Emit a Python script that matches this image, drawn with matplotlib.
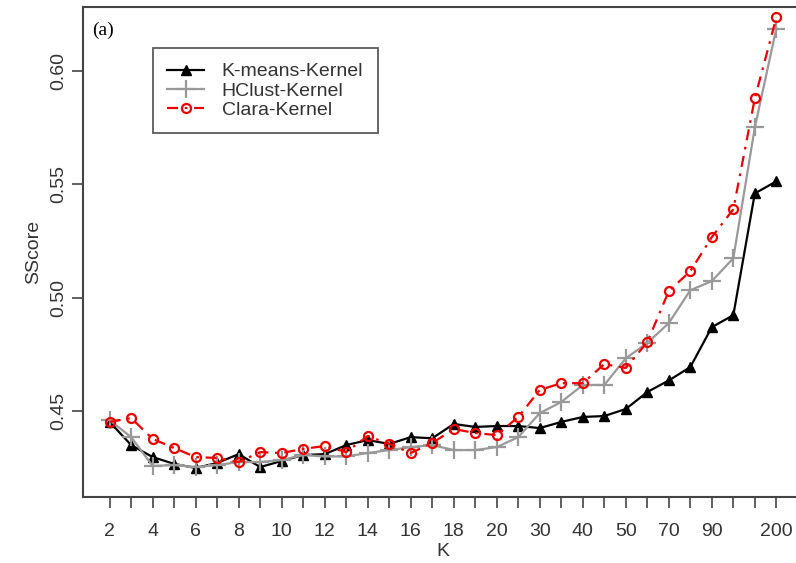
import numpy as np
import matplotlib
matplotlib.use('Agg')
import matplotlib.pyplot as plt

# K values (categorical positions on the x axis)
k_values = [2, 3, 4, 5, 6, 7, 8, 9, 10, 11, 12, 13, 14, 15, 16, 17, 18, 19, 20,
            25, 30, 35, 40, 45, 50, 60, 70, 80, 90, 100, 150, 200]
shown_labels = [2, 4, 6, 8, 10, 12, 14, 16, 18, 20, 30, 40, 50, 70, 90, 200]

kmeans = [0.4452, 0.4350, 0.4297, 0.4267, 0.4249, 0.4271, 0.4310, 0.4253,
          0.4280, 0.4306, 0.4310, 0.4350, 0.4372, 0.4355, 0.4385, 0.4380,
          0.4443, 0.4430, 0.4434, 0.4434, 0.4425, 0.4452, 0.4474, 0.4478,
          0.4509, 0.4584, 0.4635, 0.4694, 0.4870, 0.4923, 0.5460, 0.5513]
hclust = [0.4460, 0.4385, 0.4258, 0.4262, 0.4253, 0.4262, 0.4275, 0.4275,
          0.4284, 0.4306, 0.4300, 0.4300, 0.4315, 0.4328, 0.4341, 0.4350,
          0.4328, 0.4328, 0.4341, 0.4385, 0.4491, 0.4540, 0.4615, 0.4615,
          0.4733, 0.4800, 0.4888, 0.5033, 0.5073, 0.5174, 0.5751, 0.6187]
clara = [0.4452, 0.4469, 0.4377, 0.4337, 0.4297, 0.4293, 0.4275, 0.4319,
         0.4315, 0.4333, 0.4346, 0.4319, 0.4390, 0.4355, 0.4315, 0.4359,
         0.4421, 0.4403, 0.4394, 0.4474, 0.4593, 0.4623, 0.4623, 0.4707,
         0.4690, 0.4804, 0.5029, 0.5117, 0.5267, 0.5390, 0.5879, 0.6236]

plt.rcParams['font.family'] = ['Liberation Sans', 'DejaVu Sans']

fig = plt.figure(figsize=(7.96, 5.63), dpi=100)
ax = fig.add_axes([83 / 796, 66 / 563, 720 / 796, 490 / 563])

x = np.arange(len(k_values))
ax.plot(x, kmeans, color='black', lw=1.6, marker='^', ms=7, label='K-means-Kernel')
ax.plot(x, hclust, color='#999999', lw=1.6, marker='+', ms=13, mew=1.6, label='HClust-Kernel')
ax.plot(x, clara, color='#ee0000', lw=1.6, ls=(0, (5, 3, 1.2, 3)), marker='o', ms=6.5,
        mfc='none', mew=1.6, label='Clara-Kernel')

ax.set_xlim(-1.24, len(k_values) - 1 + 1.24)
ax.set_ylim(0.4121, 0.6282)

ax.set_xticks(x)
ax.set_xticklabels([str(k) if k in shown_labels else '' for k in k_values])
ax.set_yticks([0.45, 0.50, 0.55, 0.60])
ax.set_yticklabels(['0.45', '0.50', '0.55', '0.60'], rotation=90, va='center')

ax.tick_params(direction='out', length=8, width=1.2, color='#444444',
               labelsize=14, labelcolor='#333333', pad=3)
ax.tick_params(axis='x', pad=11)
for side in ['left', 'bottom', 'top']:
    ax.spines[side].set_color('#444444')
    ax.spines[side].set_linewidth(1.5)
ax.spines['right'].set_visible(False)

ax.set_xlabel('K', fontsize=14, color='#333333', labelpad=2)
ax.set_ylabel('SScore', fontsize=14, color='#333333', labelpad=6)

ax.text(0.012, 0.97, '(a)', transform=ax.transAxes, fontsize=14,
        family='Liberation Serif', va='top', ha='left')

leg = ax.legend(loc='upper left', bbox_to_anchor=(0.097, 0.916), borderaxespad=0,
                fontsize=14, frameon=True, fancybox=False, handlelength=1.9,
                handletextpad=0.9, labelspacing=0.08, borderpad=0.75)
leg.get_frame().set_edgecolor('#333333')
leg.get_frame().set_linewidth(1.3)
for t in leg.get_texts():
    t.set_color('#333333')

plt.savefig('out.png', dpi=100)
